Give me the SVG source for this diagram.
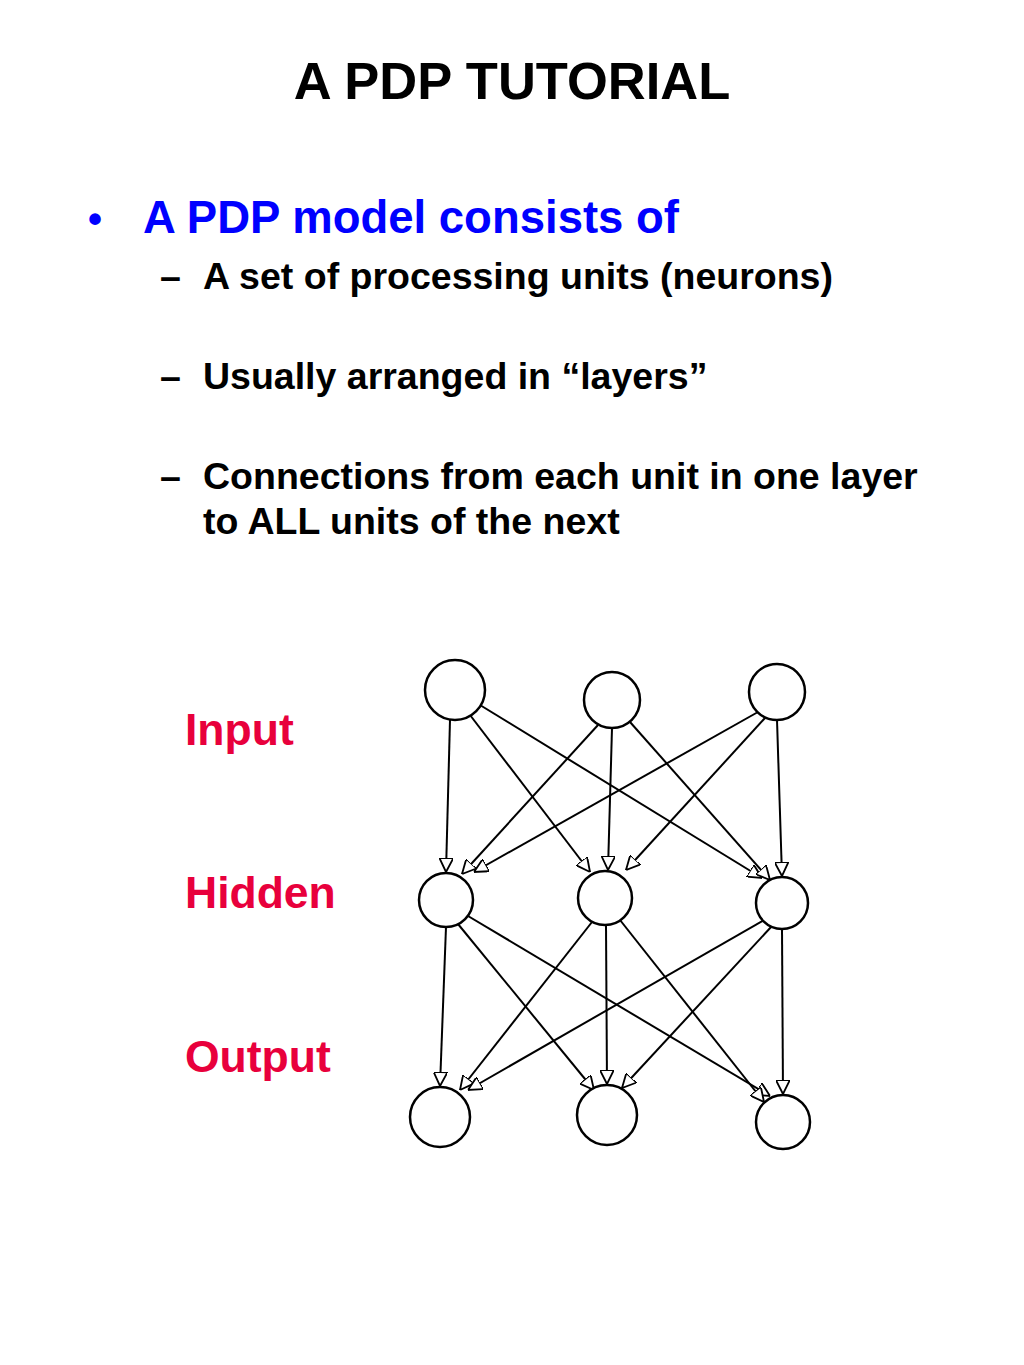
<svg xmlns="http://www.w3.org/2000/svg" width="1024" height="1365" viewBox="0 0 1024 1365">
<style>
text{font-family:"Liberation Sans",Arial,sans-serif;font-weight:bold}
.n{fill:#fff;stroke:#000;stroke-width:2.5}
.c{stroke:#000;stroke-width:2;fill:none;marker-end:url(#a)}
.sub{font-size:37.5px}
.lab{font-size:44.5px;fill:#e8003c}
</style>
<defs><marker id="a" viewBox="0 0 10 10" refX="10" refY="5" markerWidth="14" markerHeight="14" markerUnits="userSpaceOnUse" orient="auto"><path d="M0,0L10,5L0,10z" fill="#fff" stroke="#000" stroke-width="1.3"/></marker></defs>
<rect width="1024" height="1365" fill="#fff"/>
<text x="512" y="99" font-size="52.5" text-anchor="middle">A PDP TUTORIAL</text>
<text x="88" y="233" font-size="40" fill="#0000ff">•</text>
<text x="143" y="233" font-size="45.5" fill="#0000ff">A PDP model consists of</text>
<text x="160" y="289" class="sub">–</text><text x="203" y="289" class="sub">A set of processing units (neurons)</text>
<text x="160" y="389" class="sub">–</text><text x="203" y="389" class="sub">Usually arranged in “layers”</text>
<text x="160" y="489" class="sub">–</text><text x="203" y="489" class="sub">Connections from each unit in one layer</text>
<text x="203" y="534" class="sub">to ALL units of the next</text>
<text x="185" y="745" class="lab">Input</text>
<text x="185" y="908" class="lab">Hidden</text>
<text x="185" y="1072" class="lab">Output</text>
<g id="connectors">
<path class="c" d="M450,720L446,872"/><path class="c" d="M470,715L590,872"/><path class="c" d="M480,705L762,878"/>
<path class="c" d="M598,725L462,874"/><path class="c" d="M612,728L608,870"/><path class="c" d="M630,722L770,880"/>
<path class="c" d="M758,712L474,872"/><path class="c" d="M765,718L626,870"/><path class="c" d="M777,720L782,876"/>
<path class="c" d="M446,927L440,1086"/><path class="c" d="M458,924L594,1090"/><path class="c" d="M468,916L770,1096"/>
<path class="c" d="M592,922L460,1090"/><path class="c" d="M606,925L607,1084"/><path class="c" d="M620,920L764,1102"/>
<path class="c" d="M764,920L468,1090"/><path class="c" d="M772,926L622,1088"/><path class="c" d="M782,929L783,1094"/>
</g>
<g id="in1"><circle class="n" cx="455" cy="690" r="30"/></g>
<g id="in2"><circle class="n" cx="612" cy="700" r="28"/></g>
<g id="in3"><circle class="n" cx="777" cy="692" r="28"/></g>
<g id="h1"><circle class="n" cx="446" cy="900" r="27"/></g>
<g id="h2"><circle class="n" cx="605" cy="898" r="27"/></g>
<g id="h3"><circle class="n" cx="782" cy="903" r="26"/></g>
<g id="o1"><circle class="n" cx="440" cy="1117" r="30"/></g>
<g id="o2"><circle class="n" cx="607" cy="1115" r="30"/></g>
<g id="o3"><circle class="n" cx="783" cy="1122" r="27"/></g>
</svg>
